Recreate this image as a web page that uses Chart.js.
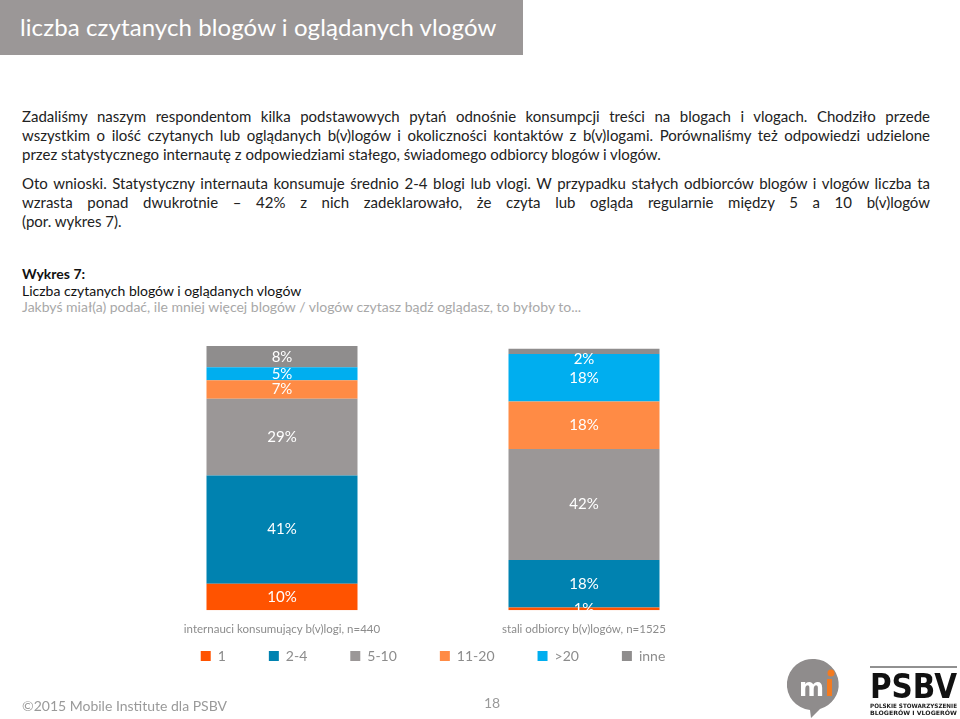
<!DOCTYPE html>
<html lang="pl">
<head>
<meta charset="utf-8">
<title>liczba czytanych blogów i oglądanych vlogów</title>
<script src="https://cdn.jsdelivr.net/npm/chart.js@4.4.1/dist/chart.umd.min.js"></script>
<style>
  html, body { margin: 0; padding: 0; background: #fff; }
  body { width: 960px; height: 719px; position: relative; overflow: hidden; font-family: Lato, "Noto Sans", sans-serif; }
  .titlebar { position: absolute; left: 0; top: 0; width: 523px; height: 55px; background: #9b9797; }
  .titlebar span { position: absolute; left: 20px; top: 12px; font-size: 24px; letter-spacing: 0.1px; color: #fff; }
  .para { position: absolute; left: 22px; width: 908px; font-size: 15px; color: #222; line-height: 19px; }
  .para div { white-space: nowrap; }
  .para .j { text-align: justify; text-align-last: justify; }
  .cap { position: absolute; left: 22px; top: 266px; font-size: 14px; line-height: 16.5px; color: #111; }
  .cap b { font-weight: 700; }
  .cap .sub { color: #a8a8a8; }
  #wrap { position: absolute; left: 0; top: 320px; width: 960px; height: 380px; }
  .foot { position: absolute; left: 22px; top: 697px; font-size: 14px; color: #9a9a9a; }
  .page { position: absolute; left: 484px; top: 694px; font-size: 14px; color: #9a9a9a; }
  .logos { position: absolute; left: 780px; top: 655px; }
</style>
</head>
<body>
<div class="titlebar"><span>liczba czytanych blogów i oglądanych vlogów</span></div>

<div class="para" style="top:107px">
  <div class="j">Zadaliśmy naszym respondentom kilka podstawowych pytań odnośnie konsumpcji treści na blogach i vlogach. Chodziło przede</div>
  <div class="j">wszystkim o ilość czytanych lub oglądanych b(v)logów i okoliczności kontaktów z b(v)logami. Porównaliśmy też odpowiedzi udzielone</div>
  <div>przez statystycznego internautę z odpowiedziami stałego, świadomego odbiorcy blogów i vlogów.</div>
</div>
<div class="para" style="top:174px">
  <div class="j">Oto wnioski. Statystyczny internauta konsumuje średnio 2-4 blogi lub vlogi. W przypadku stałych odbiorców blogów i vlogów liczba ta</div>
  <div class="j">wzrasta ponad dwukrotnie – 42% z nich zadeklarowało, że czyta lub ogląda regularnie między 5 a 10 b(v)logów</div>
  <div>(por. wykres 7).</div>
</div>

<div class="cap">
  <div><b>Wykres 7:</b></div>
  <div>Liczba czytanych blogów i oglądanych vlogów</div>
  <div class="sub">Jakbyś miał(a) podać, ile mniej więcej blogów / vlogów czytasz bądź oglądasz, to byłoby to...</div>
</div>

<div id="wrap"><canvas id="chart"></canvas></div>

<div class="foot">©2015 Mobile Institute dla PSBV</div>
<div class="page">18</div>

<div class="logos">
  <svg width="180" height="64" viewBox="0 0 180 64">
    <path d="M35 4 A25.5 25.5 0 1 0 30 55 L31 63 L40 54 A25.5 25.5 0 0 0 35 4 Z" fill="#8f8c8c"/>
    <text x="19" y="41" font-family="DejaVu Sans" font-weight="bold" font-size="24" fill="#fff">m</text>
    <rect x="47" y="24" width="5" height="17" fill="#f47b20"/>
    <circle cx="51" cy="18" r="3.5" fill="#f47b20"/>
    <line x1="90" y1="12" x2="177" y2="12" stroke="#222" stroke-width="1"/>
    <text x="90" y="43" font-family="DejaVu Sans" font-weight="bold" font-size="34" fill="#111" textLength="87" lengthAdjust="spacingAndGlyphs">PSBV</text>
    <text x="90" y="53" font-family="DejaVu Sans" font-weight="bold" font-size="6" fill="#222" textLength="87" lengthAdjust="spacingAndGlyphs">POLSKIE STOWARZYSZENIE</text>
    <text x="90" y="60" font-family="DejaVu Sans" font-weight="bold" font-size="6" fill="#222" textLength="87" lengthAdjust="spacingAndGlyphs">BLOGERÓW I VLOGERÓW</text>
  </svg>
</div>

<script>
// DANE WYKRESU
const categories = ['internauci konsumujący b(v)logi, n=440', 'stali odbiorcy b(v)logów, n=1525'];
const seriesNames = ['1', '2-4', '5-10', '11-20', '>20', 'inne'];
const vals1 = [10, 1];
const vals2to4 = [41, 18];
const vals5to10 = [29, 42];
const vals11to20 = [7, 18];
const valsOver20 = [5, 18];
const valsOther = [8, 2];
const seriesColors = ['#ff5300', '#0082b0', '#9b9797', '#ff8b45', '#00aeef', '#8f8d8d'];

const allValues = [vals1, vals2to4, vals5to10, vals11to20, valsOver20, valsOther];

// etykiety procentowe na segmentach
const segmentLabels = {
    id: 'segmentLabels',
    afterDatasetsDraw(chart) {
        const ctx = chart.ctx;
        ctx.save();
        ctx.fillStyle = '#fff';
        ctx.font = '15px Lato, "Noto Sans", sans-serif';
        ctx.textAlign = 'center';
        ctx.textBaseline = 'middle';
        const last = chart.data.datasets.length - 1;
        chart.data.datasets.forEach((ds, i) => {
            chart.getDatasetMeta(i).data.forEach((bar, j) => {
                let y = (bar.y + bar.base) / 2;
                if (i === last) y = Math.max(y, bar.y + 11);
                ctx.fillText(ds.data[j] + '%', bar.x, y);
            });
        });
        ctx.restore();
    }
};

// legenda: duży odstęp w poziomie, mały w pionie
const LEGEND_CUT = 34;
const legendFit = {
    id: 'legendFit',
    beforeInit(chart) {
        const lg = chart.legend;
        const fit = lg.fit;
        lg.fit = function () {
            fit.call(this);
            this.height -= LEGEND_CUT;
        };
        const draw = lg._draw;
        lg._draw = function () {
            this.top -= LEGEND_CUT;
            draw.call(this);
            this.top += LEGEND_CUT;
        };
    }
};

// puste osie boczne, żeby ustawić pozycję słupków
const sideWidth = (w) => (scale) => { scale.width = w; };

window.onload = function () {
    const ctx = document.getElementById('chart').getContext('2d');

    new Chart(ctx, {
        type: 'bar',
        data: {
            labels: categories,
            datasets: seriesNames.map((name, i) => ({
                label: name,
                data: allValues[i],
                backgroundColor: seriesColors[i],
                borderWidth: 0,
                barPercentage: 0.5,
                categoryPercentage: 1
            }))
        },
        options: {
            responsive: true,
            maintainAspectRatio: false,
            animation: false,
            layout: { padding: { left: 0, right: 94, top: 26, bottom: 27 } },
            plugins: {
                tooltip: { enabled: false },
                legend: {
                    position: 'bottom',
                    labels: {
                        boxWidth: 10,
                        boxHeight: 10,
                        padding: 43,
                        color: '#8c8c8c',
                        font: { family: 'Lato', size: 14 }
                    }
                }
            },
            scales: {
                x: {
                    stacked: true,
                    grid: { display: false },
                    border: { display: false },
                    ticks: { color: '#8c8c8c', font: { family: 'Lato', size: 11.5 }, padding: 4 }
                },
                y: {
                    stacked: true,
                    min: 0,
                    max: 100,
                    position: 'left',
                    grid: { display: false },
                    border: { display: false },
                    ticks: { display: false },
                    afterFit: sideWidth(131)
                },
                yRight: {
                    type: 'linear',
                    position: 'right',
                    grid: { display: false },
                    border: { display: false },
                    ticks: { display: false },
                    afterFit: sideWidth(131)
                }
            }
        },
        plugins: [segmentLabels, legendFit]
    });
};
</script>
</body>
</html>
